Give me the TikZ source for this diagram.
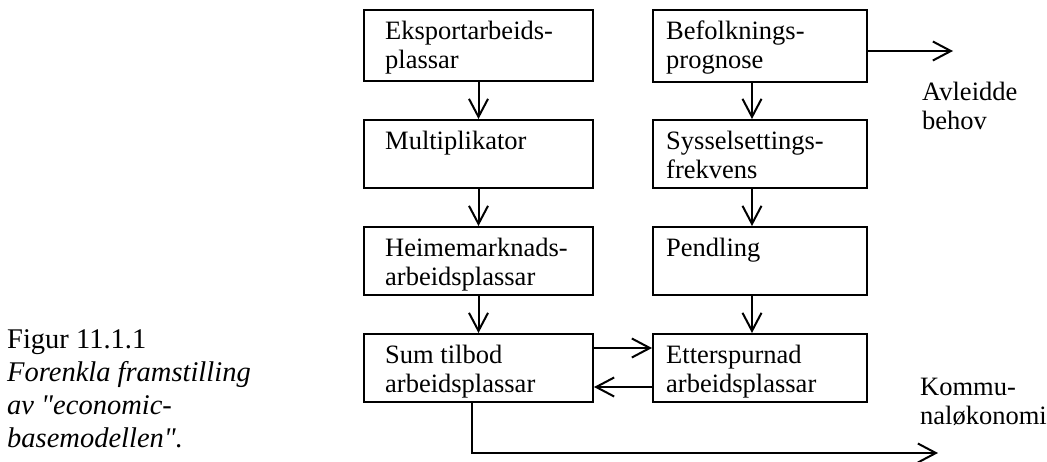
\documentclass[tikz,border=0pt]{standalone}
\usepackage{fontspec}
\setmainfont{Liberation Serif}
% caption face without TeX ligatures, so straight quotes stay straight
\newfontfamily\capfont{Liberation Serif}
\usetikzlibrary{arrows.meta}
\begin{document}
\begin{tikzpicture}[x=1pt,y=-1pt,
  box/.style={draw, line width=2pt, minimum height=68pt, inner sep=0pt},
  lbox/.style={box, minimum width=229pt},
  rbox/.style={box, minimum width=214pt},
  txt/.style={anchor=base west, inner sep=0pt, font=\fontsize{26.5}{30}\selectfont},
  captxt/.style={anchor=base west, inner sep=0pt, font=\capfont\fontsize{28.5}{32}\selectfont},
  arr/.style={line width=2pt, -{Straight Barb[length=18pt,width=19pt,line width=2pt]}}]
\useasboundingbox (0,0) rectangle (1047,461);

% left column
\node[lbox, minimum height=71pt] (L1) at (478.5,45.5) {};
\node[lbox] (L2) at (478.5,154) {};
\node[lbox] (L3) at (478.5,261) {};
\node[lbox] (L4) at (478.5,368) {};
% right column
\node[rbox, minimum height=72pt] (R1) at (760,46) {};
\node[rbox] (R2) at (760,154) {};
\node[rbox] (R3) at (760,261) {};
\node[rbox] (R4) at (760,368) {};

% box texts
\node[txt] (t1a) at (385,39) {Eksportarbeids-};
\node[txt] (t1b) at (385,68) {plassar};
\node[txt] (t2a) at (385,149) {Multiplikator};
\node[txt] (t3a) at (385,256) {Heimemarknads-};
\node[txt] (t3b) at (385,285) {arbeidsplassar};
\node[txt] (t4a) at (385,363) {Sum tilbod};
\node[txt] (t4b) at (385,392) {arbeidsplassar};
\node[txt] (u1a) at (666,39) {Befolknings-};
\node[txt] (u1b) at (666,68) {prognose};
\node[txt] (u2a) at (666,149) {Sysselsettings-};
\node[txt] (u2b) at (666,178) {frekvens};
\node[txt] (u3a) at (666,256) {Pendling};
\node[txt] (u4a) at (666,363) {Etterspurnad};
\node[txt] (u4b) at (666,392) {arbeidsplassar};

% outside labels
\node[txt] (avl1) at (922,100) {Avleidde};
\node[txt] (avl2) at (922,129) {behov};
\node[txt] (kom1) at (920,395) {Kommu-};
\node[txt] (kom2) at (920,424) {naløkonomi};

% caption
\node[captxt] (c1) at (7,348) {Figur 11.1.1};
\node[captxt] (c2) at (7,381) {\itshape Forenkla framstilling};
\node[captxt] (c3) at (7,414) {\itshape av "economic-};
\node[captxt] (c4) at (7,447) {\itshape basemodellen".};

% free arrow ends
\coordinate (avlEnd) at (953,51);
\coordinate (komEnd) at (938,453);

% connectors
\draw[arr] (L1.south) -- (L2.north);
\draw[arr] (L2.south) -- (L3.north);
\draw[arr] (L3.south) -- (L4.north);
\draw[arr] ([xshift=-8pt]R1.south) -- ([xshift=-8pt]R2.north);
\draw[arr] ([xshift=-8pt]R2.south) -- ([xshift=-8pt]R3.north);
\draw[arr] ([xshift=-8pt]R3.south) -- ([xshift=-8pt]R4.north);
\draw[arr] (R1.east |- avlEnd) -- (avlEnd);
\draw[arr] ([yshift=20pt]L4.east) -- ([yshift=20pt]R4.west);
\draw[arr] ([yshift=-19pt]R4.west) -- ([yshift=-19pt]L4.east);
\draw[arr] ([xshift=-6.5pt]L4.south) |- (komEnd);
\end{tikzpicture}
\end{document}
